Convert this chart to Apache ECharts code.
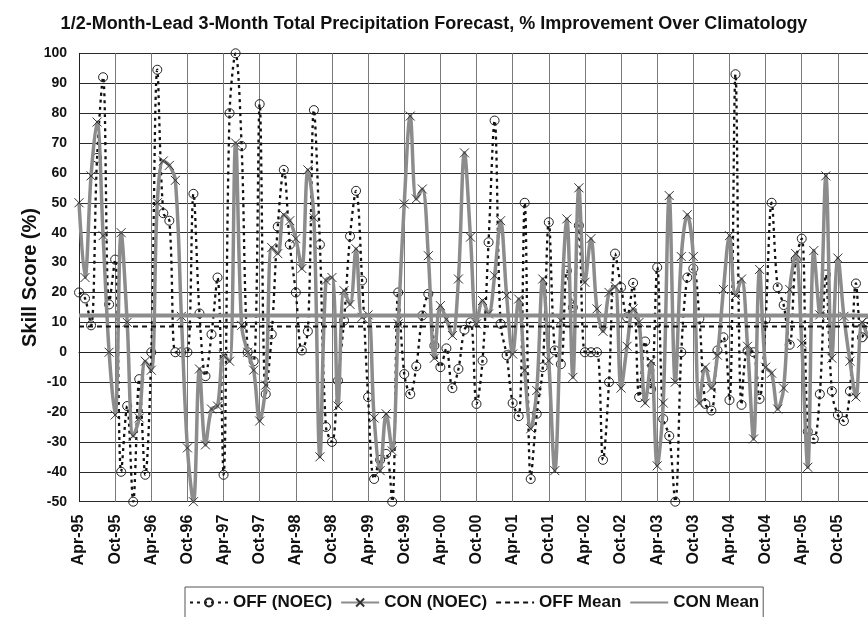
<!DOCTYPE html>
<html>
<head>
<meta charset="utf-8">
<script src="https://cdn.jsdelivr.net/npm/echarts@6/dist/echarts.min.js"></script>
<style>
html,body{margin:0;padding:0;background:#fff;}
#chart{width:868px;height:617px;}
</style>
</head>
<body>
<div id="chart"></div>
<script>
// ---- categories: monthly, Apr-95 onward ----
const monthNames = ['Jan','Feb','Mar','Apr','May','Jun','Jul','Aug','Sep','Oct','Nov','Dec'];
const startYear = 1995, startMonth = 3, monthCount = 132;
const categories = [];
for (let k = 0; k < monthCount; k++) {
  const m = (startMonth + k) % 12;
  const y = startYear + Math.floor((startMonth + k) / 12);
  categories.push(monthNames[m] + '-' + String(y % 100).padStart(2, '0'));
}

// ---- series values (skill score %) ----
const offNoec = [
  20, 18, 9, 65, 92, 16, 31, -40, -18, -50,
  -9, -41, 0, 94.5, 46.5, 44, 0, 0, 0, 53,
  13, -8, 6, 25, -41, 80, 100, 69, 0, -3,
  83, -14, 6, 42, 61, 36, 20, 0.6, 7, 81,
  36, -25, -30, -9.5, 10.6, 38.8, 54, 24, -15, -42.4,
  -36, -34, -50, 20, -7.3, -14, -4.7, 12.3, 19.5, 2.2,
  -5, 1.3, -12, -5.6, 7.5, 10, -17.3, -2.8, 36.8, 77.5,
  9.5, -1, -17, -21.4, 50, -42.4, -20.6, -5, 43.5, 0.6,
  -4, 27.3, 15, 42.4, 0, 0, 0, -36, -10, 33,
  21.7, 11.7, 23.2, -15, 3.6, -12.3, 28.4, -22.3, -28, -50,
  0, 25, 28, 11.2, -17.3, -19.5, 0.6, 5, -16, 93,
  -17.6, 0.5, 0, -15.6, 11, 50, 21.7, 15.8, 2.5, 31,
  38, -26.5, -29, -14, 26, -13, -21, -23, -13, 23,
  5, 10
];
const conNoec = [
  50, 25, 59, 77, 39, 0, -21, 40, 10, -28,
  -22, -3, -6, 50, 64, 62.5, 57.5, 12, -32, -50,
  -5.6, -31, -19, -18, -1, -3, 70, 9, 0, -6,
  -23, -11, 35, 33, 46, 44, 38, 28, 61, 45,
  -35, 24, 25, -18, 20.6, 16, 34.6, 11.7, 12.5, -22,
  -39.6, -20.6, -33, 9.5, 49.6, 79, 51.3, 54.6, 32.3, -2,
  15.6, 11, 5.6, 24.5, 66.7, 38.5, 9.5, 17.3, 12.8, 25.6,
  44, 19, -0.6, 17.8, -6, -25.6, -12.8, 24.5, -2.8, -39.6,
  10.6, 44.6, -8.4, 55, 23.4, 38, 14.5, 7, 20, 22,
  -12, 2, 14.5, 10, -17, -3, -38, -17, 52.4, -10,
  32, 46, 32, -17, -5, -12, -1, 21, 39, 19,
  24.5, 2, -29, 27.7, -5, -7, -19, -12, 21, 33,
  3, -38.5, 34, 12.5, 59, -2, 31.5, 12, -3, -15,
  10, 5
];
const offMeanValue = 8.6;
const conMeanValue = 12.3;
const offMean = categories.map(() => offMeanValue);
const conMean = categories.map(() => conMeanValue);

// ---- axis ticks ----
const yMin = -50, yMax = 100, yStep = 10;

const FONT = "'Liberation Sans', Arial, sans-serif";
const chart = echarts.init(document.getElementById('chart'), null, {renderer: 'canvas'});

const xPath = 'path://M0,0L10,10M10,0L0,10';
const noSymbol = {color: 'rgba(0,0,0,0)', borderWidth: 0, borderColor: 'rgba(0,0,0,0)'};

chart.setOption({
  animation: false,
  backgroundColor: '#ffffff',
  title: {
    text: '1/2-Month-Lead 3-Month Total Precipitation Forecast, % Improvement Over Climatology',
    left: 'center',
    top: 10,
    textStyle: {fontFamily: FONT, fontWeight: 'bold', fontSize: 18, color: '#111'}
  },
  legend: {
    left: 185,
    top: 587,
    padding: [7, 4],
    itemGap: 8,
    itemWidth: 38,
    itemHeight: 10,
    borderColor: '#555',
    borderWidth: 1,
    textStyle: {fontFamily: FONT, fontWeight: 'bold', fontSize: 17, color: '#111'},
    data: [
      {name: 'OFF (NOEC)'},
      {name: 'CON (NOEC)'},
      {name: 'OFF Mean', itemStyle: noSymbol},
      {name: 'CON Mean', itemStyle: noSymbol}
    ]
  },
  grid: {left: 79, top: 53.3, width: 802, height: 448.4, containLabel: false},
  xAxis: {
    type: 'category',
    data: categories,
    boundaryGap: false,
    axisLine: {show: true, lineStyle: {color: '#222', width: 1}},
    axisTick: {show: false},
    axisLabel: {
      interval: 5, rotate: 90, margin: 13,
      fontFamily: FONT, fontWeight: 'bold', fontSize: 16, color: '#111'
    },
    splitLine: {show: true, interval: 5, lineStyle: {color: '#7a7a7a', width: 1}}
  },
  yAxis: {
    type: 'value',
    min: yMin, max: yMax, interval: yStep,
    name: 'Skill Score (%)',
    nameLocation: 'middle',
    nameGap: 39,
    nameMoveOverlap: false,
    nameTextStyle: {fontFamily: FONT, fontWeight: 'bold', fontSize: 20, color: '#111'},
    axisLine: {show: true, lineStyle: {color: '#222', width: 1}},
    axisTick: {show: false},
    axisLabel: {margin: 12, fontFamily: FONT, fontWeight: 'bold', fontSize: 14, color: '#111'},
    splitLine: {show: true, lineStyle: {color: '#2a2a2a', width: 1.2}}
  },
  series: [
    {
      name: 'OFF (NOEC)', type: 'line', data: offNoec,
      smooth: 0.35, showAllSymbol: true,
      symbol: 'circle', symbolSize: 9,
      itemStyle: {color: 'rgba(255,255,255,0)', borderColor: '#222', borderWidth: 1},
      lineStyle: {color: '#111', width: 2.3, type: [3, 4]},
      z: 2
    },
    {
      name: 'CON (NOEC)', type: 'line', data: conNoec,
      smooth: 0.35, showAllSymbol: true,
      symbol: xPath, symbolSize: 9,
      itemStyle: {color: 'rgba(0,0,0,0)', borderColor: '#333', borderWidth: 1},
      lineStyle: {color: '#8c8c8c', width: 3.5, type: 'solid'},
      z: 3
    },
    {
      name: 'OFF Mean', type: 'line', data: offMean,
      symbol: 'none',
      itemStyle: {color: '#111'},
      lineStyle: {color: '#111', width: 2, type: [5, 4]},
      z: 4
    },
    {
      name: 'CON Mean', type: 'line', data: conMean,
      symbol: 'none',
      itemStyle: {color: '#8c8c8c'},
      lineStyle: {color: '#8c8c8c', width: 4, type: 'solid'},
      z: 4
    }
  ]
});
</script>
</body>
</html>
